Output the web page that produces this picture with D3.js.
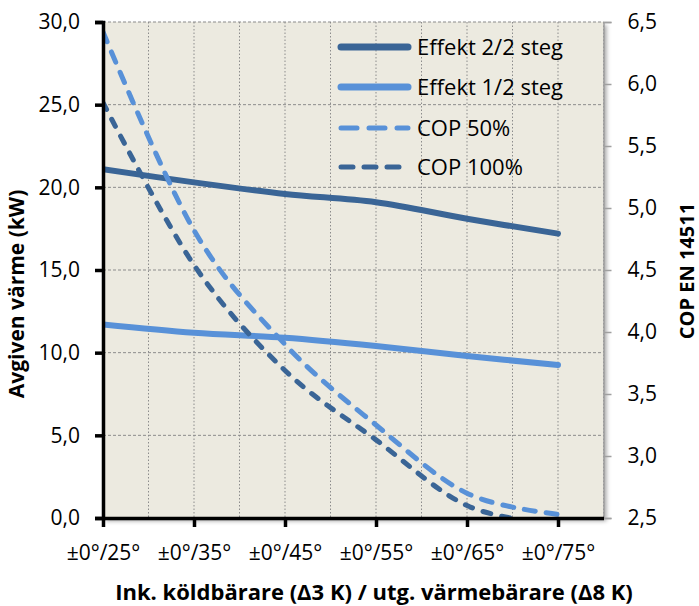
<!DOCTYPE html>
<html>
<head>
<meta charset="utf-8">
<script src="https://cdn.jsdelivr.net/npm/d3@7.9.0/dist/d3.min.js"></script>
<style>
  body { margin: 0; background: #fff; }
  svg text { font-family: "Open Sans", sans-serif; fill: #000; }
</style>
</head>
<body>
<svg id="chart" width="699" height="606"></svg>
<script>
// data
const categories = ['±0°/25°', '±0°/35°', '±0°/45°', '±0°/55°', '±0°/65°', '±0°/75°'];
const effekt22 = [21.1, 20.3, 19.6, 19.1, 18.1, 17.2];
const effekt12 = [11.7, 11.2, 10.9, 10.4, 9.8, 9.25];
const cop50 = [6.42, 4.82, 3.9, 3.25, 2.7, 2.53];
const cop100 = [5.85, 4.54, 3.69, 3.13, 2.6, 2.45];
const leftTicks = [0, 5, 10, 15, 20, 25, 30];
const rightTicks = [2.5, 3, 3.5, 4, 4.5, 5, 5.5, 6, 6.5];

const dark = '#3a6596', light = '#5891d8';
const series = [
  { name: 'Effekt 2/2 steg', values: effekt22, axis: 'left', color: dark, w: 6, dash: null },
  { name: 'Effekt 1/2 steg', values: effekt12, axis: 'left', color: light, w: 6, dash: null },
  { name: 'COP 50%', values: cop50, axis: 'right', color: light, w: 5, dash: '11,11' },
  { name: 'COP 100%', values: cop100, axis: 'right', color: dark, w: 5, dash: '8,11' }
];

const svg = d3.select('#chart');
const L = 103, R = 603.5, T = 22, B = 518;

const x = d3.scaleLinear().domain([0, categories.length - 0.5]).range([L, R]);
const yL = d3.scaleLinear().domain([0, 30]).range([B, T]);
const yR = d3.scaleLinear().domain([2.5, 6.5]).range([B, T]);
const fmt = d => d3.format('.1f')(d).replace('.', ',');

const defs = svg.append('defs');
const f = defs.append('filter').attr('id', 'shadow').attr('x', '-5%').attr('y', '-5%').attr('width', '115%').attr('height', '115%');
f.append('feDropShadow').attr('dx', 3).attr('dy', 3).attr('stdDeviation', 2).attr('flood-color', '#000').attr('flood-opacity', 0.35);
defs.append('clipPath').attr('id', 'clip').append('rect')
  .attr('x', L).attr('y', T - 10).attr('width', R - L).attr('height', B - T + 10);

// plot area
svg.append('rect').attr('x', L).attr('y', T).attr('width', R - L).attr('height', B - T)
  .attr('fill', '#eceae0').attr('filter', 'url(#shadow)');

// vertical dotted gridlines, every half category
const vgrid = d3.range(1, categories.length * 2).map(i => i / 2);
svg.append('g').selectAll('line').data(vgrid).join('line')
  .attr('x1', d => x(d)).attr('x2', d => x(d)).attr('y1', T).attr('y2', B)
  .attr('stroke', '#8c8c8c').attr('stroke-width', 1).attr('stroke-dasharray', '1.5,2');

// horizontal dashed gridlines
svg.append('g').selectAll('line').data(leftTicks.filter(d => d > 0)).join('line')
  .attr('x1', L).attr('x2', R).attr('y1', d => yL(d)).attr('y2', d => yL(d))
  .attr('stroke', '#8c8c8c').attr('stroke-width', 1).attr('stroke-dasharray', '3,2');

// right axis (gray)
const gR = svg.append('g').attr('transform', `translate(${R},0)`)
  .call(d3.axisRight(yR).tickValues(rightTicks).tickFormat(fmt).tickSize(8).tickPadding(16));
gR.select('.domain').attr('stroke', '#a0a0a0').attr('stroke-width', 1.5);
gR.selectAll('.tick line').attr('stroke', '#a0a0a0').attr('stroke-width', 1.5);
gR.selectAll('.tick text').attr('font-size', 21).attr('fill', '#000');

// lines
const gLines = svg.append('g').attr('clip-path', 'url(#clip)');
series.forEach(s => {
  const yS = s.axis === 'left' ? yL : yR;
  const line = d3.line().x((d, i) => x(i)).y(d => yS(d)).curve(d3.curveCatmullRom.alpha(0));
  gLines.append('path').datum(s.values).attr('d', line)
    .attr('fill', 'none').attr('stroke', s.color).attr('stroke-width', s.w)
    .attr('stroke-linecap', 'round').attr('stroke-linejoin', 'round')
    .attr('stroke-dasharray', s.dash);
});

// left axis
const gL = svg.append('g').attr('transform', `translate(${L},0)`)
  .call(d3.axisLeft(yL).tickValues(leftTicks).tickFormat(fmt).tickSize(8).tickPadding(15));
gL.select('.domain').attr('stroke', '#000').attr('stroke-width', 3.5);
gL.selectAll('.tick line').attr('stroke', '#000').attr('stroke-width', 3.5);
gL.selectAll('.tick text').attr('font-size', 21).attr('fill', '#000');

// bottom axis
const gB = svg.append('g').attr('transform', `translate(0,${B})`)
  .call(d3.axisBottom(x).tickValues(d3.range(categories.length)).tickFormat(i => categories[i]).tickSize(9).tickSizeOuter(0).tickPadding(18));
gB.select('.domain').attr('stroke', '#000').attr('stroke-width', 3.5);
gB.selectAll('.tick line').attr('stroke', '#000').attr('stroke-width', 3.5);
gB.selectAll('.tick text').attr('font-size', 21).attr('fill', '#000');

// axis titles
svg.append('text').attr('x', 374).attr('y', 600).attr('text-anchor', 'middle')
  .attr('font-size', 22).attr('font-weight', 'bold').text('Ink. köldbärare (Δ3 K) / utg. värmebärare (Δ8 K)');
svg.append('text').attr('transform', 'translate(24,294) rotate(-90)').attr('text-anchor', 'middle')
  .attr('font-size', 21).attr('font-weight', 'bold').text('Avgiven värme (kW)');
svg.append('text').attr('transform', 'translate(694,271) rotate(-90)').attr('text-anchor', 'middle')
  .attr('font-size', 20).attr('font-weight', 'bold').text('COP EN 14511');

// legend
const legY = [47, 87, 128, 167];
const leg = svg.append('g');
series.forEach((s, i) => {
  leg.append('line').attr('x1', 341).attr('x2', 408).attr('y1', legY[i]).attr('y2', legY[i])
    .attr('stroke', s.color).attr('stroke-width', s.dash ? s.w : 7).attr('stroke-linecap', 'round')
    .attr('stroke-dasharray', s.dash ? (i === 2 ? '16,12' : '12,11') : null);
  leg.append('text').attr('x', 417).attr('y', legY[i] + 8).attr('font-size', 22).text(s.name);
});
</script>
</body>
</html>
